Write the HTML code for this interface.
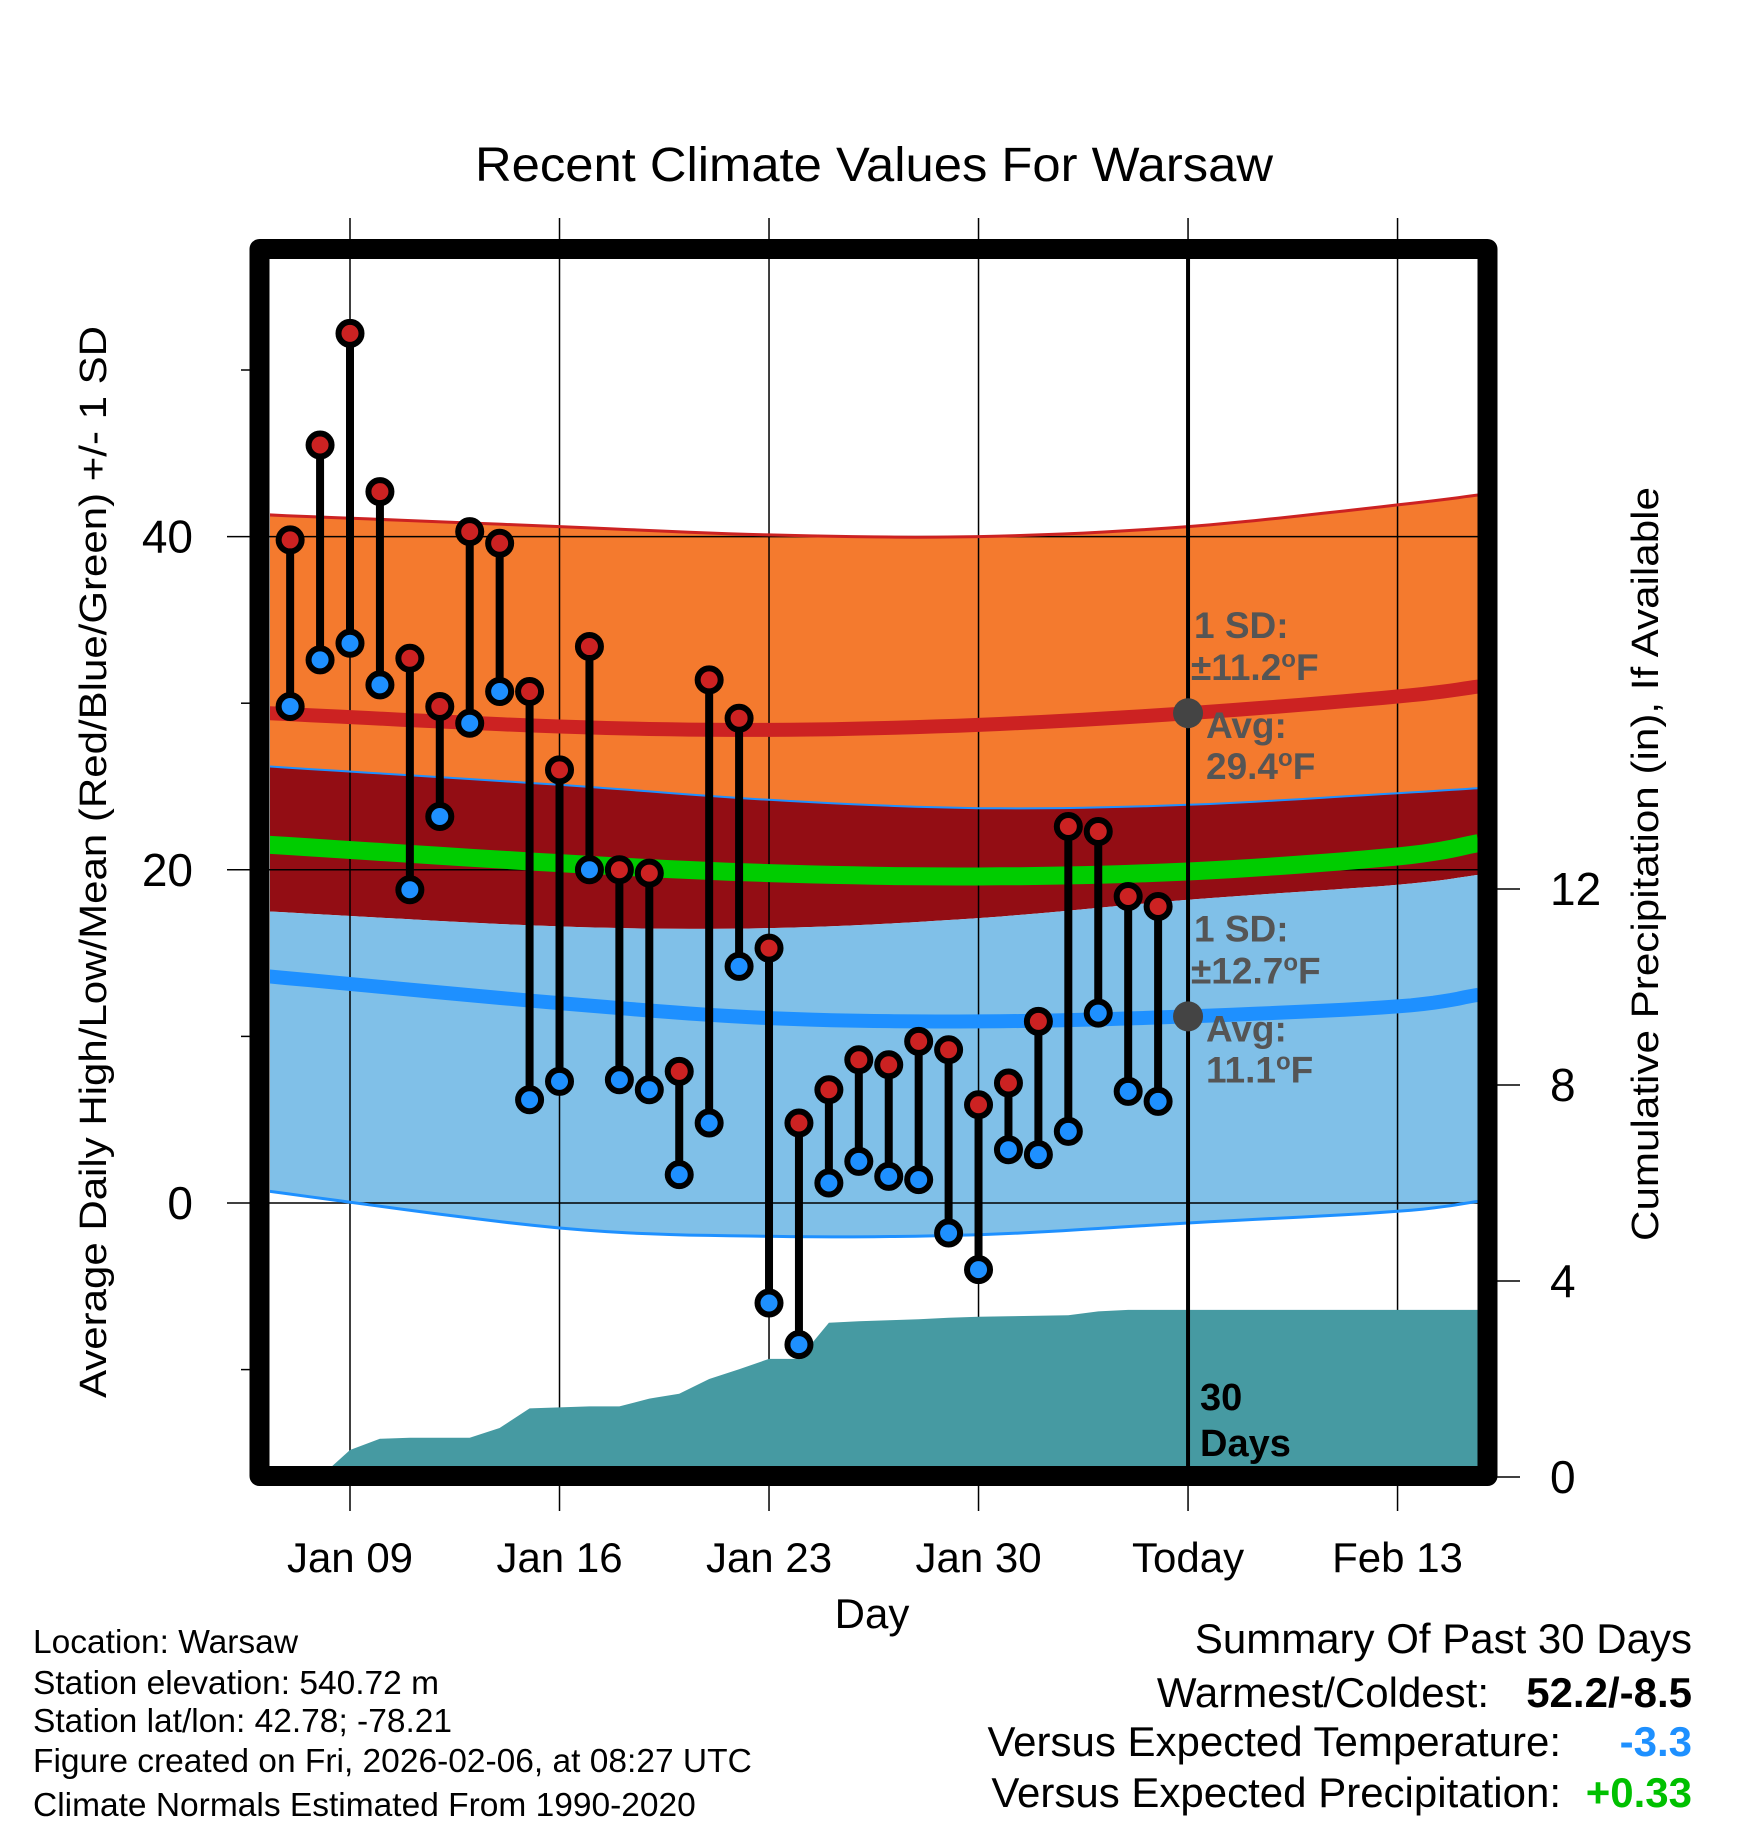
<!DOCTYPE html>
<html><head><meta charset="utf-8"><style>
html,body{margin:0;padding:0;background:#fff}
svg{display:block;font-family:"Liberation Sans",Arial,sans-serif}
</style></head><body>
<svg id="chart" width="1748" height="1828" viewBox="0 0 1748 1828" xmlns="http://www.w3.org/2000/svg">
<text x="874" y="181" text-anchor="middle" font-size="48" textLength="798" lengthAdjust="spacingAndGlyphs">Recent Climate Values For Warsaw</text>
<defs><clipPath id="plotclip"><rect x="270" y="259" width="1208" height="1208"/></clipPath></defs>
<g id="bands" clip-path="url(#plotclip)"></g>
<g id="grid"></g>
<g id="precip" clip-path="url(#plotclip)"></g>
<g id="normlines" clip-path="url(#plotclip)"></g>
<g id="marks"></g>
<g id="annot"></g>
<rect x="259.5" y="249" width="1228" height="1227" fill="none" stroke="#000" stroke-width="20" stroke-linejoin="round"/>
<g id="axes"></g>
<text transform="translate(106,862) rotate(-90)" text-anchor="middle" font-size="38" textLength="1072" lengthAdjust="spacingAndGlyphs">Average Daily High/Low/Mean (Red/Blue/Green) +/- 1 SD</text>
<text transform="translate(1658,864) rotate(-90)" text-anchor="middle" font-size="38" textLength="754" lengthAdjust="spacingAndGlyphs">Cumulative Precipitation (in), If Available</text>
<text x="872" y="1628" text-anchor="middle" font-size="42">Day</text>
<g font-size="33.5">
<text x="33" y="1653">Location: Warsaw</text>
<text x="33" y="1694">Station elevation: 540.72 m</text>
<text x="33" y="1732">Station lat/lon: 42.78; -78.21</text>
<text x="33" y="1772">Figure created on Fri, 2026-02-06, at 08:27 UTC</text>
<text x="33" y="1816">Climate Normals Estimated From 1990-2020</text>
</g>
<g font-size="42">
<text x="1692" y="1653" text-anchor="end">Summary Of Past 30 Days</text>
<text x="1489" y="1707" text-anchor="end">Warmest/Coldest:</text>
<text x="1692" y="1707" text-anchor="end" font-weight="bold">52.2/-8.5</text>
<text x="1561" y="1756" text-anchor="end">Versus Expected Temperature:</text>
<text x="1692" y="1756" text-anchor="end" font-weight="bold" fill="#1e90ff">-3.3</text>
<text x="1561" y="1807" text-anchor="end">Versus Expected Precipitation:</text>
<text x="1692" y="1807" text-anchor="end" font-weight="bold" fill="#00c000">+0.33</text>
</g>
</svg>
<script>
// day index: 0 = Jan 07
const highs = [39.8,45.5,52.2,42.7,32.7,29.8,40.3,39.6,30.7,26.0,33.4,20.0,19.8,7.9,31.4,29.1,15.3,4.8,6.8,8.6,8.3,9.7,9.2,5.9,7.2,10.9,22.6,22.3,18.4,17.8];
const lows = [29.8,32.6,33.6,31.1,18.8,23.2,28.8,30.7,6.2,7.3,20.0,7.4,6.8,1.7,4.8,14.2,-6.0,-8.5,1.2,2.5,1.6,1.4,-1.8,-4.0,3.2,2.9,4.3,11.4,6.7,6.1];
const precip = [0,0,0.55,0.78,0.80,0.80,0.80,1.0,1.40,1.42,1.44,1.44,1.6,1.70,2.0,2.2,2.41,2.41,3.15,3.18,3.2,3.22,3.25,3.27,3.28,3.29,3.30,3.38,3.41,3.41];
const normDays = [-0.7,9,16,23,30,37,39.7];
const highPlusSD = [41.3,40.6,40.1,40.0,40.6,41.9,42.5];
const highAvg = [29.4,28.6,28.4,28.7,29.4,30.4,31.0];
const highMinusSD = [26.2,25.1,24.2,23.7,23.9,24.6,24.9];
const meanAvg = [21.5,20.4,19.8,19.6,19.9,20.8,21.6];
const lowPlusSD = [17.5,16.6,16.5,17.1,18.2,19.1,19.7];
const lowAvg = [13.6,12.0,11.1,10.9,11.2,11.8,12.5];
const lowMinusSD = [0.7,-1.5,-2.0,-1.9,-1.2,-0.5,0.1];
const xTickDays = [2,9,16,23,30,37];
const xTickLabels = ["Jan 09","Jan 16","Jan 23","Jan 30","Today","Feb 13"];
const yTicks = [0,20,40];
const yMinorTicks = [-10,10,30,50];
const y2Ticks = [0,4,8,12];

const NS="http://www.w3.org/2000/svg";
const X = d => 350 + (d-2)*29.93;
const Y = t => 1203 - t*16.66;
const YP = p => 1477 - p*49;
function mk(tag, parent, attrs){const e=document.createElementNS(NS,tag);for(const k in attrs)e.setAttribute(k,attrs[k]);parent.appendChild(e);return e;}
function smoothPts(arr){
  const P=arr.map((v,i)=>[X(normDays[i]),Y(v)]);
  const out=[];
  for(let i=0;i<P.length-1;i++){
    const p0=P[Math.max(0,i-1)],p1=P[i],p2=P[i+1],p3=P[Math.min(P.length-1,i+2)];
    for(let s=0;s<10;s++){
      const t=s/10,t2=t*t,t3=t2*t;
      const f=(a,b,c,d)=>0.5*((2*b)+(-a+c)*t+(2*a-5*b+4*c-d)*t2+(-a+3*b-3*c+d)*t3);
      out.push([f(p0[0],p1[0],p2[0],p3[0]),f(p0[1],p1[1],p2[1],p3[1])]);
    }
  }
  out.push(P[P.length-1]);
  return out.map(p=>p[0].toFixed(1)+","+p[1].toFixed(1));
}
function band(top,bot){return "M"+smoothPts(top).join(" L")+" L"+smoothPts(bot).reverse().join(" L")+" Z";}
const line = arr => "M"+smoothPts(arr).join(" L");
const G = id => document.getElementById(id);

const bands=G('bands');
let e;
e=mk('path',bands,{d:band(highPlusSD,highMinusSD),fill:'#f47a2e'});


e=mk('path',bands,{d:band(highMinusSD,lowPlusSD),fill:'#930d14'});


e=mk('path',bands,{d:band(lowPlusSD,lowMinusSD),fill:'#80c0e8'});



const grid=G('grid');
xTickDays.forEach(d=>{mk('line',grid,{x1:X(d),x2:X(d),y1:218,y2:1511,stroke:'#000','stroke-width':1.5});});
yTicks.forEach(t=>{mk('line',grid,{x1:227,x2:1478,y1:Y(t),y2:Y(t),stroke:'#000','stroke-width':1.5});});

const pg=G('precip');
let pd="M"+X(0)+","+YP(0);
precip.forEach((p,i)=>{pd+=" L"+X(i).toFixed(1)+","+YP(p).toFixed(1);});
pd+=" L1480,"+YP(precip[precip.length-1]).toFixed(1)+" L1480,1480 L"+X(0)+",1480 Z";
e=mk('path',pg,{d:pd,fill:'#469aa2'});



const nl=G('normlines');
e=mk('path',nl,{d:line(highPlusSD),fill:'none',stroke:'#cc2222','stroke-width':3});


e=mk('path',nl,{d:line(highAvg),fill:'none',stroke:'#cc2222','stroke-width':14});


e=mk('path',nl,{d:line(highMinusSD),fill:'none',stroke:'#1e90ff','stroke-width':2});


e=mk('path',nl,{d:line(meanAvg),fill:'none',stroke:'#00cc00','stroke-width':18});


e=mk('path',nl,{d:line(lowAvg),fill:'none',stroke:'#1e90ff','stroke-width':14});


e=mk('path',nl,{d:line(lowMinusSD),fill:'none',stroke:'#1e90ff','stroke-width':3});



const mg=G('marks');
highs.forEach((h,i)=>{
  const x=X(i);
  e=mk('line',mg,{x1:x,x2:x,y1:Y(h),y2:Y(lows[i]),stroke:'#000','stroke-width':8});
  
  
});
highs.forEach((h,i)=>{
  const x=X(i);
  e=mk('circle',mg,{cx:x,cy:Y(h),r:11.5,fill:'#cc2222',stroke:'#000','stroke-width':6});
  
  
  e=mk('circle',mg,{cx:x,cy:Y(lows[i]),r:11.5,fill:'#1e90ff',stroke:'#000','stroke-width':6});
  
  
});

const an=G('annot');
e=mk('line',an,{x1:X(30),x2:X(30),y1:259,y2:1467,stroke:'#000','stroke-width':4});


const hAvgToday=highAvg[4], lAvgToday=lowAvg[4];
e=mk('circle',an,{cx:X(30),cy:Y(hAvgToday),r:15,fill:'#444'});


e=mk('circle',an,{cx:X(30),cy:Y(lAvgToday),r:15,fill:'#444'});


function txt(parent,x,y,s,attrs){const t=mk('text',parent,Object.assign({x:x,y:y},attrs||{}));t.textContent=s;return t;}
const ga={'font-size':37,'font-weight':'bold',fill:'#555'};
[[Y(hAvgToday),"11.2","29.4"],[Y(lAvgToday),"12.7","11.1"]].forEach(([yc,sd,av])=>{
  const g=mk('g',an,{});
  
  
  txt(g,1194,yc-75,"1 SD:",ga);
  const t=mk('text',g,Object.assign({x:1191,y:yc-33},ga));
  t.innerHTML='±'+sd+'<tspan dy="-13" font-size="24">o</tspan><tspan dy="13">F</tspan>';
  txt(g,1206,yc+25,"Avg:",ga);
  const t2=mk('text',g,Object.assign({x:1206,y:yc+66},ga));
  t2.innerHTML=' '+av+'<tspan dy="-13" font-size="24">o</tspan><tspan dy="13">F</tspan>';
});
const dl=mk('g',an,{'font-size':38,'font-weight':'bold'});


txt(dl,1200,1410,"30");
txt(dl,1200,1456,"Days");

const ax=G('axes');
yTicks.forEach(t=>{
  e=txt(ax,193,Y(t)+16,String(t),{'font-size':46,'text-anchor':'end'});
  
  
});
yMinorTicks.forEach(t=>{mk('line',ax,{x1:241,x2:250,y1:Y(t),y2:Y(t),stroke:'#000','stroke-width':1.5});});
y2Ticks.forEach(p=>{
  mk('line',ax,{x1:1497,x2:1520,y1:YP(p),y2:YP(p),stroke:'#000','stroke-width':1.5});
  e=txt(ax,1550,YP(p)+16,String(p),{'font-size':46});
  
  
});
xTickDays.forEach((d,i)=>{
  e=txt(ax,X(d),1572,xTickLabels[i],{'font-size':42,'text-anchor':'middle'});
  
  
});
</script>
</body></html>
